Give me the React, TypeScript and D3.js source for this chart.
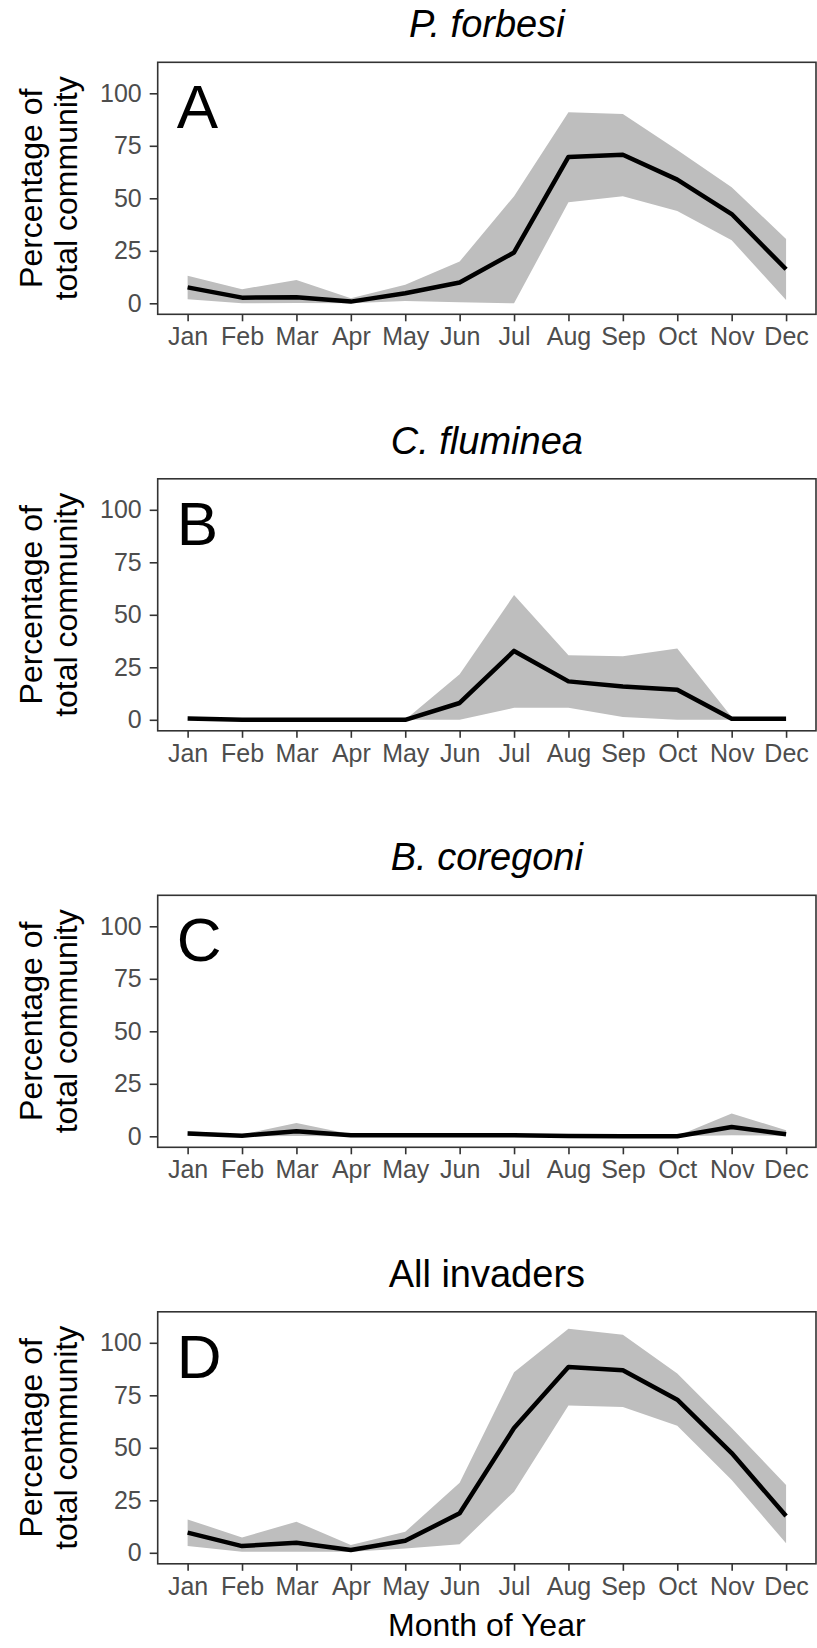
import React, { useRef, useEffect } from 'react';
import * as d3 from 'd3';

const months = ['Jan', 'Feb', 'Mar', 'Apr', 'May', 'Jun', 'Jul', 'Aug', 'Sep', 'Oct', 'Nov', 'Dec'];
const yTicks = [0, 25, 50, 75, 100];

const titles = ['P. forbesi', 'C. fluminea', 'B. coregoni', 'All invaders'];
const italicTitle = [true, true, true, false];
const letters = ['A', 'B', 'C', 'D'];

// mean line and ribbon bounds, one value per month
const forbesiMean = [7.6, 2.7, 2.9, 0.8, 4.8, 9.9, 24.2, 69.7, 70.7, 58.9, 42.5, 16.2];
const forbesiHigh = [13.1, 6.7, 11.1, 2.4, 8.8, 19.9, 51, 91, 90.1, 73, 55.3, 30.6];
const forbesiLow = [1.9, 0, 0.2, 0, 1.1, 0.5, 0, 48.1, 51, 44, 30, 1.6];

const flumineaMean = [0.6, 0, 0, 0, 0, 8, 32.8, 18.3, 15.9, 14.3, 0.5, 0.5];
const flumineaHigh = [0.6, 0, 0, 0, 0, 21.7, 59.4, 30.7, 30.3, 33.9, 1.3, 0.6];
const flumineaLow = [0.5, 0, 0, 0, 0, 0, 5.7, 5.7, 1.3, 0, 0, 0];

const coregoniMean = [1.3, 0.3, 2.4, 0.5, 0.5, 0.5, 0.5, 0.2, 0, 0, 4.4, 1];
const coregoniHigh = [2.5, 0.8, 6.3, 1, 1, 1, 1, 0.5, 0.2, 0.2, 10.8, 2.9];
const coregoniLow = [0.3, 0, 0.2, 0, 0, 0, 0, 0, 0, 0, 0.5, 0.2];

const allMean = [9.6, 3.2, 4.8, 1.3, 5.7, 18.8, 59.4, 88.5, 86.9, 72.9, 47.5, 17.5];
const allHigh = [15.9, 7.3, 14.8, 3.7, 10, 33.4, 86, 106.7, 103.8, 85.4, 59.4, 32.3];
const allLow = [3.2, 0.5, 0.5, 0.5, 2.1, 4.1, 29.1, 70.1, 69.4, 60.5, 34.7, 4.5];

const means = [forbesiMean, flumineaMean, coregoniMean, allMean];
const highs = [forbesiHigh, flumineaHigh, coregoniHigh, allHigh];
const lows = [forbesiLow, flumineaLow, coregoniLow, allLow];

const App = () => {
  const ref = useRef(null);

  useEffect(() => {
    document.body.style.margin = '0';
    const width = 817;
    const height = 1648;
    const font = '"Liberation Sans", Arial, sans-serif';

    const svg = d3.select(ref.current)
      .attr('width', width)
      .attr('height', height)
      .style('display', 'block')
      .style('background', '#fff');
    svg.selectAll('*').remove();

    const left = 157.7;
    const right = 816;
    const panelH = 252;
    const step = 416.5;

    const x = d3.scaleLinear().domain([0.45, 12.55]).range([left, right]);

    titles.forEach((title, i) => {
      const top = 62.3 + i * step;
      const y = d3.scaleLinear().domain([-5.24, 114.76]).range([top + panelH, top]);
      const g = svg.append('g');

      const rows = months.map((m, j) => ({ m: j + 1, mean: means[i][j], hi: highs[i][j], lo: lows[i][j] }));

      const area = d3.area()
        .x(d => x(d.m))
        .y0(d => y(d.lo))
        .y1(d => y(d.hi));
      const line = d3.line()
        .x(d => x(d.m))
        .y(d => y(d.mean));

      g.append('path')
        .datum(rows)
        .attr('d', area)
        .attr('fill', '#bebebe');

      g.append('path')
        .datum(rows)
        .attr('d', line)
        .attr('fill', 'none')
        .attr('stroke', '#000')
        .attr('stroke-width', 4.5)
        .attr('stroke-linejoin', 'round');

      // panel border
      g.append('rect')
        .attr('x', left)
        .attr('y', top)
        .attr('width', right - left)
        .attr('height', panelH)
        .attr('fill', 'none')
        .attr('stroke', '#333')
        .attr('stroke-width', 1.6);

      // y axis
      const yAxis = g.append('g')
        .attr('transform', `translate(${left},0)`)
        .call(d3.axisLeft(y).tickValues(yTicks).tickSize(8).tickPadding(8));
      yAxis.select('.domain').remove();
      yAxis.selectAll('line').attr('stroke', '#333').attr('stroke-width', 1.6);
      yAxis.selectAll('text')
        .attr('fill', '#4d4d4d')
        .style('font-family', font)
        .style('font-size', '25px');

      // x axis
      const xAxis = g.append('g')
        .attr('transform', `translate(0,${top + panelH})`)
        .call(d3.axisBottom(x).tickValues(d3.range(1, 13)).tickFormat(d => months[d - 1]).tickSize(7).tickPadding(6));
      xAxis.select('.domain').remove();
      xAxis.selectAll('line').attr('stroke', '#333').attr('stroke-width', 1.6);
      xAxis.selectAll('text')
        .attr('fill', '#4d4d4d')
        .attr('dy', '0.71em')
        .style('font-family', font)
        .style('font-size', '25px');

      // panel letter
      g.append('text')
        .attr('x', left + 19)
        .attr('y', top + 66)
        .attr('fill', '#000')
        .style('font-family', font)
        .style('font-size', '62px')
        .text(letters[i]);

      // title
      g.append('text')
        .attr('x', (left + right) / 2)
        .attr('y', top - 25)
        .attr('text-anchor', 'middle')
        .attr('fill', '#000')
        .style('font-family', font)
        .style('font-size', '38px')
        .style('font-style', italicTitle[i] ? 'italic' : 'normal')
        .text(title);

      // y axis title
      const cy = top + panelH / 2;
      const yt = g.append('text')
        .attr('transform', `translate(41.7,${cy}) rotate(-90)`)
        .attr('text-anchor', 'middle')
        .attr('fill', '#000')
        .style('font-family', font)
        .style('font-size', '32px');
      yt.append('tspan').attr('x', 0).attr('y', 0).text('Percentage of');
      yt.append('tspan').attr('x', 0).attr('y', 35.6).text('total community');
    });

    svg.append('text')
      .attr('x', (left + right) / 2)
      .attr('y', 1636)
      .attr('text-anchor', 'middle')
      .attr('fill', '#000')
      .style('font-family', font)
      .style('font-size', '32px')
      .text('Month of Year');
  }, []);

  return <svg ref={ref} />;
};

export default App;
